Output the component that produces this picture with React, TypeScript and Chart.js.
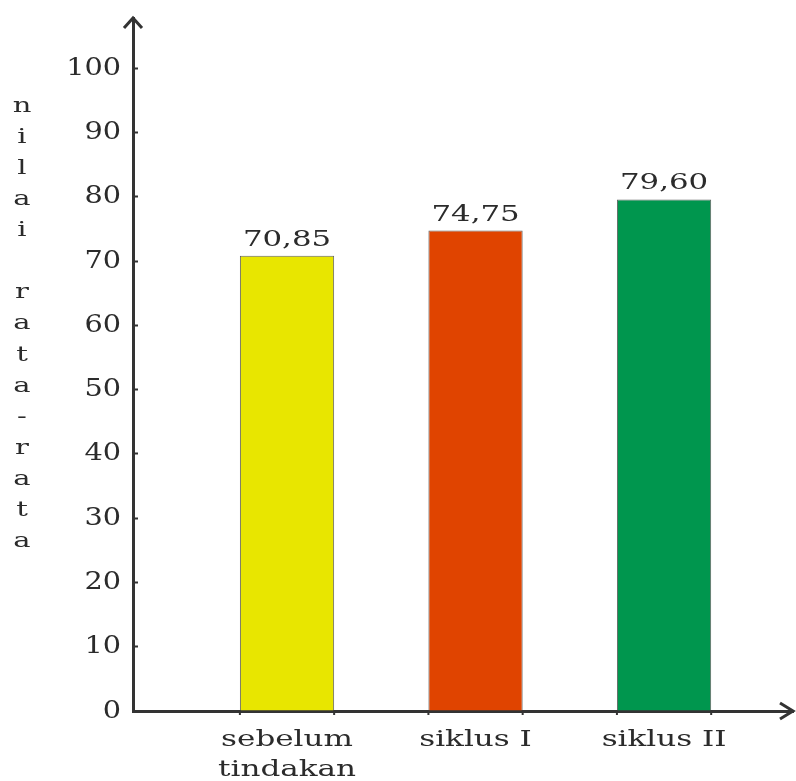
import { useEffect, useRef } from 'react';
import { Chart, LinearScale, registerables } from 'chart.js';

// Mean score per phase
const categories: string[][] = [['sebelum', 'tindakan'], ['siklus I'], ['siklus II']];
const values: number[] = [70.85, 74.75, 79.6];
const barColors: string[] = ['#E8E600', '#E04400', '#00964E'];
const yTickValues: number[] = [0, 10, 20, 30, 40, 50, 60, 70, 80, 90, 100];
const yTitle = 'nilai rata-rata';

const AXIS = '#333333';
const TEXT = '#2b2b2b';
const FONT = "'DejaVu Serif', serif";

// Linear scale whose tick labels are drawn horizontally widened.
class StretchedLinearScale extends LinearScale {
  static id = 'stretchedLinear';
  drawLabels(chartArea: any) {
    const ctx: any = this.ctx;
    const sx = (this.options as any).stretch ?? 1;
    const native = ctx.fillText;
    ctx.fillText = function (text: string, x: number, y: number, maxWidth?: number) {
      this.save();
      this.translate(x, y);
      this.scale(sx, 1);
      native.call(this, text, 0, 0, maxWidth);
      this.restore();
    };
    try {
      super.drawLabels(chartArea);
    } finally {
      delete ctx.fillText;
    }
  }
}

Chart.register(...registerables, StretchedLinearScale);

const formatValue = (v: number) => v.toFixed(2).replace('.', ',');

function stretchedText(ctx: CanvasRenderingContext2D, text: string, x: number, y: number, sx: number) {
  ctx.save();
  ctx.translate(x, y);
  ctx.scale(sx, 1);
  ctx.fillText(text, 0, 0);
  ctx.restore();
}

const decorations = {
  id: 'decorations',
  afterDatasetsDraw(chart: any) {
    const { ctx, chartArea } = chart;
    const { left, top, right, bottom } = chartArea;
    ctx.save();

    // arrow heads on both axes
    ctx.strokeStyle = AXIS;
    ctx.lineWidth = 3;
    ctx.lineJoin = 'miter';
    ctx.beginPath();
    ctx.moveTo(left - 9, top + 10);
    ctx.lineTo(left, top);
    ctx.lineTo(left + 9, top + 10);
    ctx.stroke();
    ctx.beginPath();
    ctx.moveTo(right - 13, bottom - 8);
    ctx.lineTo(right, bottom);
    ctx.lineTo(right - 13, bottom + 8);
    ctx.stroke();

    // small marks under the bar edges, and value labels above bars
    const meta = chart.getDatasetMeta(0);
    ctx.lineWidth = 2;
    ctx.fillStyle = TEXT;
    ctx.font = `23px ${FONT}`;
    ctx.textAlign = 'center';
    ctx.textBaseline = 'alphabetic';
    meta.data.forEach((bar: any, i: number) => {
      const { x, y, width } = bar.getProps(['x', 'y', 'width'], true);
      ctx.beginPath();
      for (const ex of [x - width / 2, x + width / 2]) {
        ctx.moveTo(ex, bottom);
        ctx.lineTo(ex, bottom + 4);
      }
      ctx.stroke();
      stretchedText(ctx, formatValue(values[i]), x, y - 10, 1.34);
    });

    // axis title, one letter per row
    ctx.font = `20px ${FONT}`;
    const letters = Array.from(yTitle);
    letters.forEach((ch, k) => {
      if (ch === ' ') return;
      stretchedText(ctx, ch, 22, 112 + k * 31.07, 1.45);
    });

    ctx.restore();
  },
};

export default function App() {
  const canvasRef = useRef<HTMLCanvasElement | null>(null);

  useEffect(() => {
    const canvas = canvasRef.current;
    if (!canvas) return;
    const chart = new Chart(canvas, {
      type: 'bar',
      data: {
        datasets: [
          {
            data: values.map((y, i) => ({ x: i, y })),
            backgroundColor: barColors,
            borderColor: 'rgba(70,70,70,0.85)',
            borderWidth: 1,
            barPercentage: 0.5,
            categoryPercentage: 1,
          },
        ],
      },
      options: {
        responsive: false,
        animation: false,
        events: [],
        layout: { padding: { left: 0, top: 18, right: 3, bottom: 0 } },
        plugins: {
          legend: { display: false },
          tooltip: { enabled: false },
          title: { display: false },
        },
        scales: {
          x: {
            type: 'stretchedLinear' as any,
            position: 'bottom',
            offset: false,
            stretch: 1.41,
            min: -0.817,
            max: 2.684,
            bounds: 'data',
            grid: { display: false, drawTicks: false, offset: false },
            border: { display: true, color: AXIS, width: 3 },
            ticks: {
              autoSkip: false,
              maxRotation: 0,
              minRotation: 0,
              padding: 14,
              color: TEXT,
              font: { family: FONT, size: 22, lineHeight: 1.36 },
              callback: (v: any) => categories[Number(v)] ?? '',
            },
            afterBuildTicks: (scale: any) => {
              scale.ticks = categories.map((_, i) => ({ value: i }));
            },
            afterFit: (scale: any) => {
              scale.height = 70;
              scale.paddingLeft = 0;
              scale.paddingRight = 0;
            },
          } as any,
          y: {
            type: 'stretchedLinear' as any,
            position: 'left',
            stretch: 1.15,
            min: 0,
            max: 107.83,
            bounds: 'data',
            grid: {
              display: true,
              drawOnChartArea: false,
              drawTicks: true,
              tickLength: -5,
              tickWidth: 2,
              tickColor: AXIS,
              color: AXIS,
            },
            border: { display: true, color: AXIS, width: 3 },
            ticks: {
              padding: 17,
              color: TEXT,
              font: { family: FONT, size: 25 },
              callback: (v: any) => String(v),
            },
            afterBuildTicks: (scale: any) => {
              scale.ticks = yTickValues.map((value) => ({ value }));
            },
            afterFit: (scale: any) => {
              scale.width = 133;
              scale.paddingTop = 0;
              scale.paddingBottom = 0;
            },
          } as any,
        },
      },
      plugins: [decorations],
    });
    return () => chart.destroy();
  }, []);

  return (
    <div
      style={{
        position: 'fixed',
        left: 0,
        top: 0,
        width: 796,
        height: 781,
        background: '#ffffff',
      }}
    >
      <canvas ref={canvasRef} width={796} height={781} style={{ display: 'block' }} />
    </div>
  );
}
